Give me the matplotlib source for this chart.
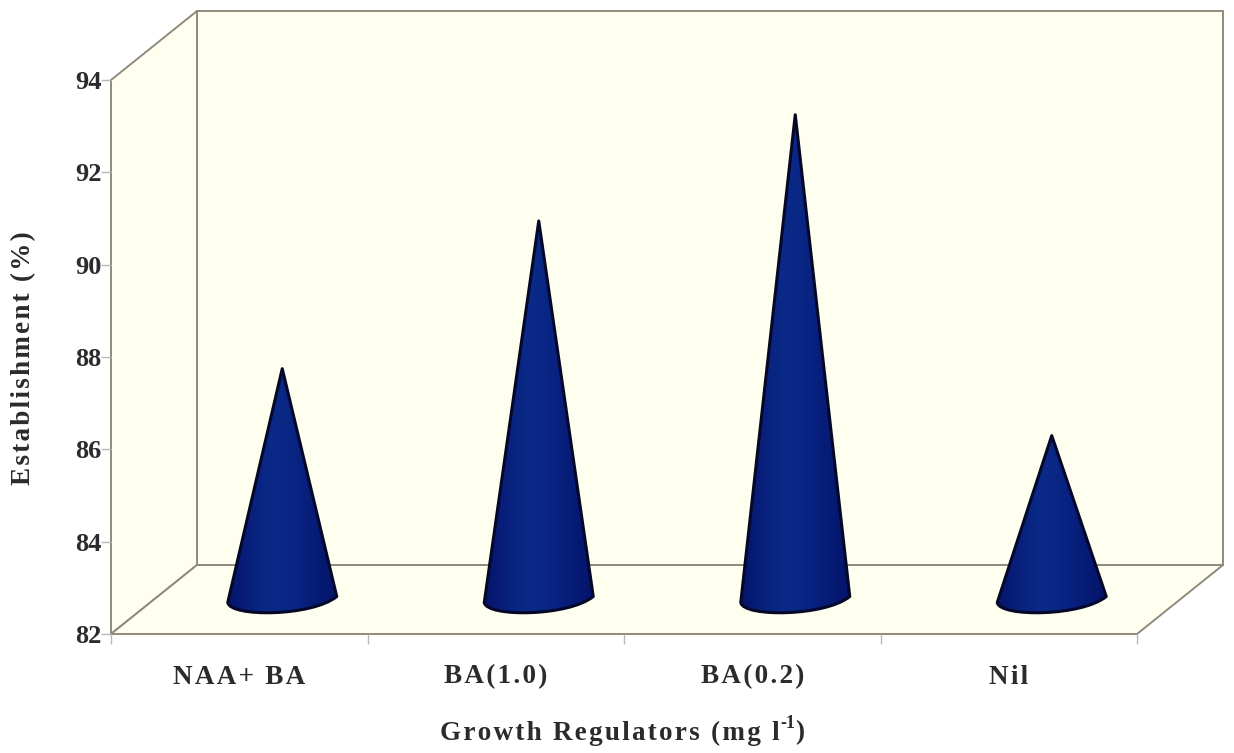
import matplotlib
matplotlib.use('Agg')
import matplotlib.pyplot as plt
import numpy as np
from matplotlib.colors import LinearSegmentedColormap
from matplotlib.path import Path
from matplotlib.patches import PathPatch, Polygon

categories = ['NAA+ BA', 'BA(1.0)', 'BA(0.2)', 'Nil']
establishment = [87.0, 90.2, 92.5, 85.55]
y_ticks = [82, 84, 86, 88, 90, 92, 94]

plt.rcParams['font.family'] = ['Liberation Serif', 'DejaVu Serif']
plt.rcParams['font.weight'] = 'bold'

W, H = 1234, 753
HAIR = '\u200a'
ink = '#2b2b2b'


def spaced(s):
    # the original labels are letter-spaced
    return HAIR.join(s)


fig = plt.figure(figsize=(W / 100, H / 100), dpi=100)
# front plane of the fake 3D box, in pixels of the picture
ax = fig.add_axes([111 / W, (H - 634) / H, 1026 / W, 554 / H])
ax.set_xlim(0, 4)
ax.set_ylim(82, 94)

px_x = 4 / 1026
px_y = 12 / 554
dx = 86 * px_x   # depth of the box
dy = 69 * px_y

wall = '#fffff0'
edge = '#8f8a7c'
x0, x1, y0, y1 = 0, 4, 82, 94

# walls and floor
ax.add_patch(Polygon([(x0 + dx, y0 + dy), (x1 + dx, y0 + dy), (x1 + dx, y1 + dy), (x0 + dx, y1 + dy)],
                     fc=wall, ec=edge, lw=1.4, clip_on=False, zorder=1))
ax.add_patch(Polygon([(x0, y0), (x0 + dx, y0 + dy), (x0 + dx, y1 + dy), (x0, y1)],
                     fc=wall, ec=edge, lw=1.4, clip_on=False, zorder=1))
ax.add_patch(Polygon([(x0, y0), (x1, y0), (x1 + dx, y0 + dy), (x0 + dx, y0 + dy)],
                     fc=wall, ec=edge, lw=1.4, clip_on=False, zorder=1))

cone_cmap = LinearSegmentedColormap.from_list(
    'cone', ['#06146a', '#08207c', '#0b2a88', '#092584', '#061c76', '#05146a'])
grad = np.linspace(0, 1, 256).reshape(1, -1)

half = 54.5 * px_x
for i, val in enumerate(establishment):
    cx = i + 0.5 + dx / 2
    base = y0 + dy / 2
    tip = val + dy / 2
    verts = [(cx, tip),
             (cx - half, base - 3 * px_y),
             (cx - half * 0.95, base - 18 * px_y), (cx + half * 0.55, base - 17 * px_y),
             (cx + half, base + 3 * px_y),
             (cx, tip)]
    codes = [Path.MOVETO, Path.LINETO, Path.CURVE4, Path.CURVE4, Path.CURVE4, Path.CLOSEPOLY]
    path = Path(verts, codes)
    im = ax.imshow(grad, extent=[cx - half, cx + half, base - 15 * px_y, tip], cmap=cone_cmap,
                   aspect='auto', zorder=3, interpolation='bilinear')
    ax.add_patch(PathPatch(path, fc='none', ec='#050828', lw=2.2, zorder=4, joinstyle='round'))
    im.set_clip_path(PathPatch(path, transform=ax.transData))

ax.set_xlim(0, 4)
ax.set_ylim(82, 94)
ax.patch.set_visible(False)
for s in ax.spines.values():
    s.set_visible(False)

ax.set_yticks(y_ticks)
ax.set_yticklabels([str(t) for t in y_ticks], fontsize=19, color=ink, fontweight='bold')
ax.tick_params(axis='y', length=7, width=1, color='#b8b8b8', pad=0)
ax.set_xticks(range(5))
ax.set_xticklabels([])
ax.tick_params(axis='x', which='major', length=7, width=1, color='#b8b8b8')
ax.set_xticks(np.arange(len(categories)) + 0.5, minor=True)
ax.set_xticklabels([spaced(c) for c in categories], minor=True, fontsize=19.5, color=ink, fontweight='bold')
ax.tick_params(axis='x', which='minor', length=0, pad=22)

fig.text(24 / W, 1 - 358 / H, spaced('Establishment (%)'), rotation=90, ha='center', va='center',
         fontsize=19.5, color=ink, fontweight='bold')
label = fig.text(440 / W, 1 - 733 / H, spaced('Growth Regulators (mg l'), ha='left', va='center',
                 fontsize=19.5, color=ink, fontweight='bold')
fig.canvas.draw()
end = label.get_window_extent().x1
fig.text((end + 1) / W, 1 - 724 / H, '-1', ha='left', va='center', fontsize=13, color=ink, fontweight='bold')
fig.text((end + 15) / W, 1 - 733 / H, ')', ha='left', va='center', fontsize=19.5, color=ink, fontweight='bold')

fig.savefig('out.png', dpi=100)
